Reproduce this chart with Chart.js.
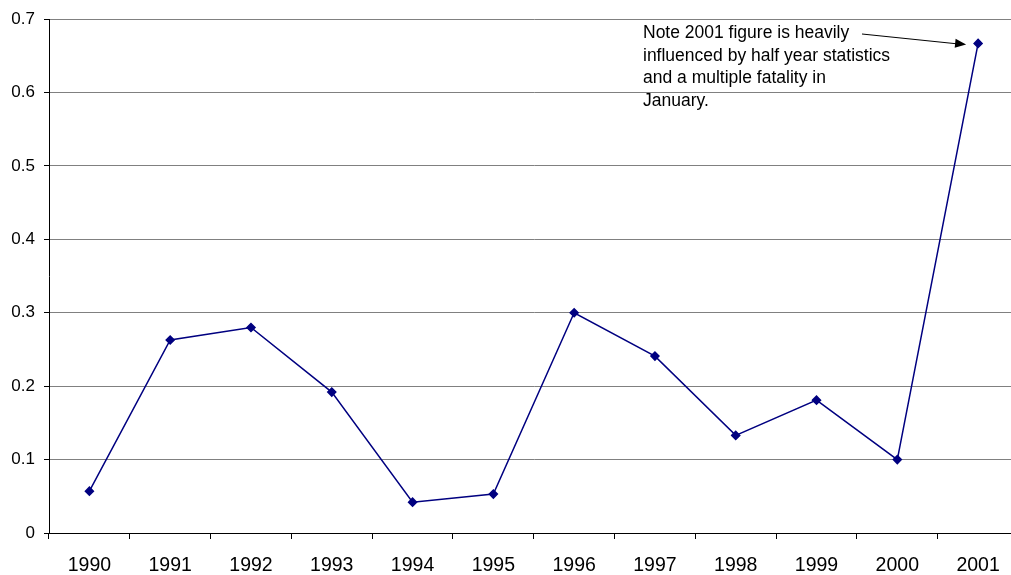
<!DOCTYPE html>
<html>
<head>
<meta charset="utf-8">
<script src="https://cdn.jsdelivr.net/npm/chart.js@4/dist/chart.umd.min.js"></script>
<style>
  html, body { margin: 0; padding: 0; background: #fff; overflow: hidden; }
  canvas { display: block; }
</style>
</head>
<body>
<canvas id="myChart" width="1024" height="575"></canvas>
<script>
const years = ['1990','1991','1992','1993','1994','1995','1996','1997','1998','1999','2000','2001'];
const rates = [0.057, 0.263, 0.280, 0.192, 0.042, 0.053, 0.300, 0.241, 0.133, 0.181, 0.100, 0.667];
const yTicks = [0, 0.1, 0.2, 0.3, 0.4, 0.5, 0.6, 0.7];
const noteLines = ['Note 2001 figure is heavily', 'influenced by half year statistics',
                   'and a multiple fatality in', 'January.'];

// note text + arrow pointing at the 2001 point
const notePlugin = {
  id: 'note',
  afterDraw(chart) {
    const ctx = chart.ctx;
    const xs = chart.scales.x, ys = chart.scales.y;
    const px = xs.getPixelForValue(11);
    const py = ys.getPixelForValue(rates[11]);
    ctx.save();
    ctx.font = '17.5px "Liberation Sans", Arial, sans-serif';
    ctx.fillStyle = '#000';
    ctx.textBaseline = 'middle';
    let tx = 643, ty = 33;
    for (let i = 0; i < noteLines.length; i++) {
      ctx.fillText(noteLines[i], tx, ty + i * 22.7);
    }
    // arrow
    let x0 = 862, y0 = 34;
    let x1 = px - 12, y1 = py + 1;
    ctx.strokeStyle = '#000';
    ctx.lineWidth = 1;
    ctx.beginPath();
    ctx.moveTo(x0, y0);
    ctx.lineTo(x1 - 10, y1 - 0.7);
    ctx.stroke();
    let a = Math.atan2(y1 - y0, x1 - x0);
    ctx.beginPath();
    ctx.moveTo(x1, y1);
    ctx.lineTo(x1 - 11 * Math.cos(a) + 4.5 * Math.sin(a), y1 - 11 * Math.sin(a) - 4.5 * Math.cos(a));
    ctx.lineTo(x1 - 11 * Math.cos(a) - 4.5 * Math.sin(a), y1 - 11 * Math.sin(a) + 4.5 * Math.cos(a));
    ctx.closePath();
    ctx.fill();
    ctx.restore();
  }
};

Chart.defaults.font.family = '"Liberation Sans", Arial, sans-serif';
Chart.defaults.font.size = 17;
Chart.defaults.color = '#000';

new Chart(document.getElementById('myChart'), {
  type: 'line',
  data: {
    labels: years,
    datasets: [{
      data: rates,
      borderColor: '#000080',
      backgroundColor: '#000080',
      borderWidth: 1.5,
      pointStyle: 'rectRot',
      pointRadius: 4,
      pointHoverRadius: 4,
      tension: 0
    }]
  },
  options: {
    animation: false,
    responsive: false,
    layout: { padding: { top: 18, left: 0, right: 0, bottom: 0 } },
    plugins: { legend: { display: false }, tooltip: { enabled: false } },
    scales: {
      x: {
        offset: true,
        grid: {
          offset: true,
          drawOnChartArea: false,
          drawTicks: true,
          tickLength: 6,
          tickColor: '#000'
        },
        border: { color: '#000', width: 1 },
        ticks: { maxRotation: 0, minRotation: 0, padding: 15, color: '#000', font: { size: 19.5 } },
        afterFit(scale) { scale.height = 42; }
      },
      y: {
        min: 0,
        max: 0.7,
        afterBuildTicks(scale) { scale.ticks = yTicks.map(v => ({ value: v })); },
        grid: {
          color: '#808080',
          tickColor: '#000',
          tickLength: 5,
          lineWidth: 1
        },
        border: { color: '#000', width: 1 },
        ticks: {
          padding: 9,
          color: '#000',
          callback: function (v) { return v === 0 ? '0' : v.toFixed(1); }
        },
        afterFit(scale) { scale.width = 49; }
      }
    }
  },
  plugins: [notePlugin]
});
</script>
</body>
</html>
